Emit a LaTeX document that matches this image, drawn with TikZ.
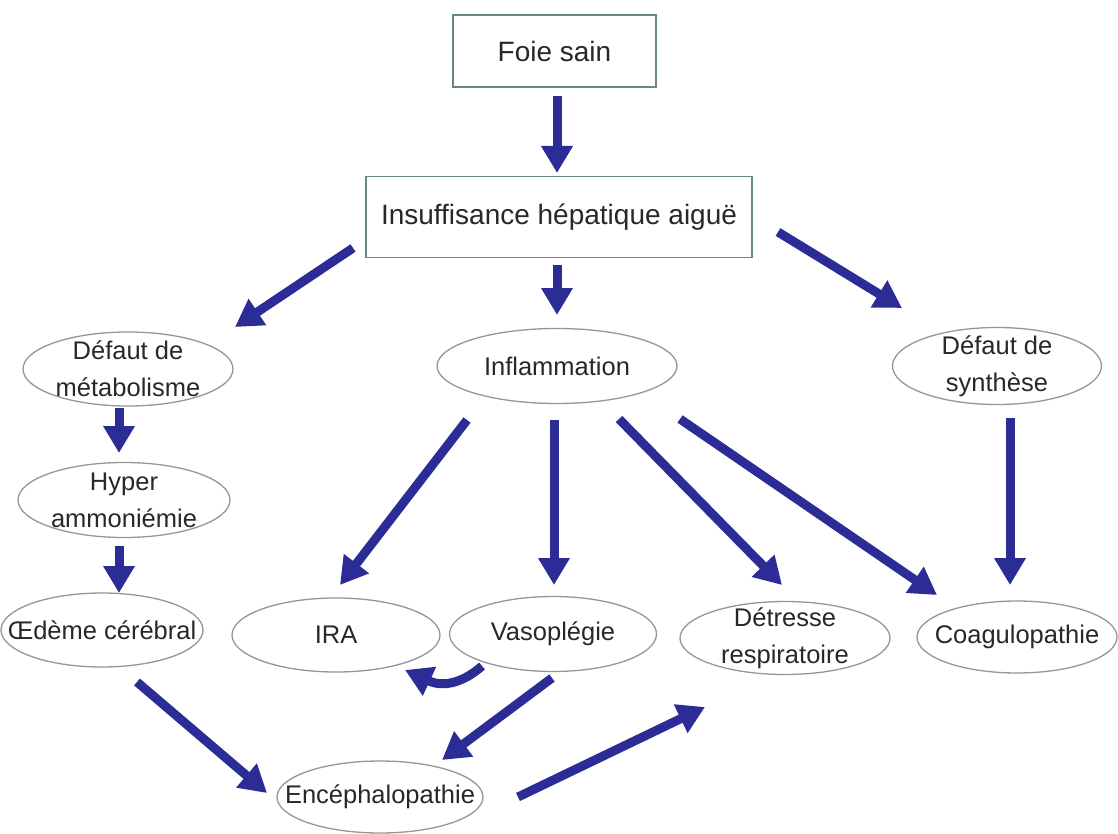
\documentclass[tikz,border=0pt]{standalone}
\usepackage{fontspec}
\setmainfont{Liberation Sans}
\usetikzlibrary{arrows.meta,shapes.geometric}
\definecolor{arrc}{RGB}{44,44,150}
\definecolor{boxc}{RGB}{105,135,130}
\definecolor{ellc}{RGB}{150,150,150}
\definecolor{txtc}{RGB}{40,40,40}
\begin{document}
\begin{tikzpicture}[x=1pt,y=-1pt,
  boxn/.style={draw=boxc,line width=1.8pt,rectangle,inner sep=0pt,text=txtc,
    font=\fontsize{28}{34}\selectfont},
  elln/.style={draw=ellc,line width=1.3pt,ellipse,inner sep=0pt},
  etext/.style={text=txtc,align=center,font=\fontsize{25.5}{37}\selectfont},
  arr/.style={draw=arrc,line width=9pt,-{Triangle[width=30pt,length=27pt]}}]
\useasboundingbox (0,0) rectangle (1118,834);
\fill[white] (0,0) rectangle (1118,834);
% boxes
\node[boxn,minimum width=203pt,minimum height=72pt] (foie) at (554.5,51) {Foie sain};
\node[boxn,minimum width=386pt,minimum height=81pt] (insuf) at (559,217) {Insuffisance hépatique aiguë};
% ellipses
\node[elln,minimum width=210pt,minimum height=74pt,label={[etext]center:Défaut de\\métabolisme}] (meta) at (128,369) {};
\node[elln,minimum width=212pt,minimum height=75pt,label={[etext]center:Hyper\\ammoniémie}] (hyper) at (124,500) {};
\node[elln,minimum width=202pt,minimum height=74pt,label={[etext]center:Œdème cérébral}] (oed) at (102,630) {};
\node[elln,minimum width=240pt,minimum height=75pt,label={[etext]center:Inflammation}] (infl) at (557,366) {};
\node[elln,minimum width=209pt,minimum height=77pt,label={[etext]center:Défaut de\\synthèse}] (synth) at (997,366) {};
\node[elln,minimum width=208pt,minimum height=74pt,label={[etext]center:IRA}] (ira) at (336,635) {};
\node[elln,minimum width=207pt,minimum height=75pt,label={[etext]center:Vasoplégie}] (vaso) at (553,634) {};
\node[elln,minimum width=210pt,minimum height=73pt,label={[etext]center:Détresse\\respiratoire}] (detr) at (785,638) {};
\node[elln,minimum width=200pt,minimum height=72pt,label={[etext]center:Coagulopathie}] (coag) at (1017,637) {};
\node[elln,minimum width=206pt,minimum height=72pt,label={[etext]center:Encéphalopathie}] (ence) at (380,797) {};
% arrow end points
\coordinate (foieS) at (557,96);   \coordinate (insufN) at (557,173);
\coordinate (insufW) at (353,248); \coordinate (metaN) at (235,327);
\coordinate (insufS) at (557,265); \coordinate (inflN) at (557,315);
\coordinate (insufE) at (778,232); \coordinate (synthN) at (902,308);
\coordinate (metaS) at (119,408);  \coordinate (hyperN) at (119,453);
\coordinate (hyperS) at (119,546); \coordinate (oedN) at (119,593);
\coordinate (inflA) at (467,420);  \coordinate (iraN) at (340,585);
\coordinate (inflB) at (554,420);  \coordinate (vasoN) at (554,585);
\coordinate (inflC) at (619,419);  \coordinate (detrN) at (782,585);
\coordinate (inflD) at (680,419);  \coordinate (coagNW) at (937,595);
\coordinate (synthS) at (1010,418); \coordinate (coagN) at (1010,585);
\coordinate (vasoW) at (482,666);  \coordinate (iraSE) at (405,670);
\coordinate (vasoS) at (552,678);  \coordinate (enceN) at (442,760);
\coordinate (oedS) at (137,682);   \coordinate (enceW) at (267,793);
\coordinate (enceE) at (518,797);  \coordinate (detrSW) at (705,707);
% arrows
\draw[arr] (foieS) -- (insufN);
\draw[arr] (insufW) -- (metaN);
\draw[arr] (insufS) -- (inflN);
\draw[arr] (insufE) -- (synthN);
\draw[arr] (metaS) -- (hyperN);
\draw[arr] (hyperS) -- (oedN);
\draw[arr] (inflA) -- (iraN);
\draw[arr] (inflB) -- (vasoN);
\draw[arr] (inflC) -- (detrN);
\draw[arr] (inflD) -- (coagNW);
\draw[arr] (synthS) -- (coagN);
\draw[arr] (vasoW) .. controls (464,682) and (444,688) .. (iraSE);
\draw[arr] (vasoS) -- (enceN);
\draw[arr] (oedS) -- (enceW);
\draw[arr] (enceE) -- (detrSW);
\end{tikzpicture}
\end{document}
